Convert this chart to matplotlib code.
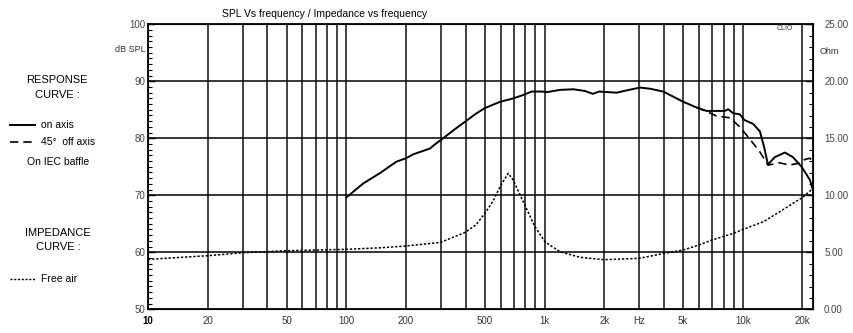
import matplotlib
matplotlib.use("Agg")
import matplotlib.pyplot as plt
from matplotlib.lines import Line2D
import numpy as np

plt.rcParams['font.family'] = ['Liberation Sans', 'DejaVu Sans']

# ---- data ----
spl_on_freq = [100, 122, 148, 179, 200, 218, 264, 284, 308, 350, 397, 450, 500, 596, 695, 781,
               861, 967, 1030, 1200, 1400, 1600, 1750, 1890, 2310, 2590, 3030, 3400, 3970,
               4460, 5010, 5850, 6570, 7370, 8120, 8440, 8940, 9660, 10200, 11300, 12200,
               12800, 13400, 14500, 16300, 17900, 19800, 21800, 22600]
spl_on_db = [69.6, 72.1, 73.9, 75.9, 76.5, 77.2, 78.2, 79.1, 80.0, 81.5, 82.9, 84.3, 85.3, 86.4,
             87.0, 87.6, 88.2, 88.2, 88.1, 88.5, 88.6, 88.3, 87.8, 88.2, 88.0, 88.4, 88.9, 88.7,
             88.2, 87.3, 86.4, 85.4, 84.8, 84.8, 84.8, 85.1, 84.4, 84.2, 83.2, 82.5, 81.2,
             78.5, 75.4, 76.7, 77.5, 76.7, 75.0, 72.7, 70.9]

spl_off_freq = [5850, 6570, 7370, 8600, 9660, 10600, 12200, 13400, 15300, 17200, 19000, 20600,
                21800, 22600]
spl_off_db = [85.4, 84.7, 83.9, 83.6, 82.0, 80.3, 77.6, 75.3, 75.7, 75.3, 75.6, 76.3, 76.5, 76.0]

imp_freq = [10, 20, 30, 50, 100, 150, 199, 299, 398, 450, 500, 550, 596, 656, 695, 795, 894,
            1004, 1196, 1510, 2000, 3000, 4000, 5000, 6000, 7000, 9000, 10000, 12700, 15500,
            18700, 20000, 22600]
imp_ohm = [4.38, 4.70, 4.96, 5.14, 5.26, 5.40, 5.55, 5.87, 6.75, 7.4, 8.4, 9.5, 10.75, 11.93,
           11.34, 9.15, 7.25, 5.93, 5.05, 4.56, 4.35, 4.47, 4.90, 5.20, 5.64, 6.08, 6.67, 7.00,
           7.68, 8.60, 9.50, 9.80, 10.60]

grid_freqs = [10, 20, 30, 40, 50, 60, 70, 80, 90, 100, 200, 300, 400, 500, 600, 700, 800, 900,
              1000, 2000, 3000, 4000, 5000, 6000, 7000, 8000, 9000, 10000, 20000]
x_label_map = {10: "10", 20: "20", 50: "50", 100: "100", 200: "200", 500: "500", 1000: "1k",
               2000: "2k", 3000: "Hz", 5000: "5k", 10000: "10k", 20000: "20k"}
spl_ticks = [50, 60, 70, 80, 90, 100]
ohm_ticks = [0, 5, 10, 15, 20, 25]
ohm_labels = ["0.00", "5.00", "10.00", "15.00", "20.00", "25.00"]

W, H = 854, 333
fig = plt.figure(figsize=(W / 100, H / 100), dpi=100)
x0, x1, ytop, ybot = 148, 813, 24.3, 309.3
ax = fig.add_axes([x0 / W, 1 - ybot / H, (x1 - x0) / W, (ybot - ytop) / H])
ax.set_xscale('log')
ax.set_xlim(10, 22600)
ax.set_ylim(50, 100)

# grid
for f in grid_freqs:
    ax.axvline(f, color='#333333', lw=1.3, zorder=1)
for v in spl_ticks[1:-1]:
    ax.axhline(v, color='black', lw=1.1, zorder=1)

ax.set_xticks(grid_freqs)
ax.set_xticklabels([x_label_map.get(f, "") for f in grid_freqs])
ax.xaxis.set_minor_locator(matplotlib.ticker.NullLocator())
ax.tick_params(axis='x', length=0, pad=5, labelsize=7, labelcolor='#333333')
for lab, f in zip(ax.get_xticklabels(), grid_freqs):
    if f == 10:
        lab.set_fontweight('bold')
        lab.set_color('black')

ax.set_yticks(spl_ticks)
ax.set_yticklabels([str(v) for v in spl_ticks])
ax.set_yticks(np.arange(50, 101, 1), minor=True)
ax.tick_params(axis='y', which='major', direction='in', length=5, width=1, labelsize=7,
               labelcolor='#444444', pad=2)
ax.tick_params(axis='y', which='minor', direction='in', length=3, width=0.8)
for s in ax.spines.values():
    s.set_linewidth(1.3)

ax.plot(spl_on_freq, spl_on_db, color='black', lw=1.4, zorder=3)
ax.plot(spl_off_freq, spl_off_db, color='black', lw=1.2, ls=(0, (5, 3)), zorder=3)

ax2 = ax.twinx()
ax2.set_ylim(0, 25)
ax2.set_yticks(ohm_ticks)
ax2.set_yticklabels(ohm_labels)
ax2.set_yticks(np.arange(0, 25.1, 1), minor=True)
ax2.tick_params(axis='y', which='major', direction='in', length=5, width=1, labelsize=7,
                labelcolor='#444444', pad=8)
ax2.tick_params(axis='y', which='minor', direction='in', length=3, width=0.8)
ax2.plot(imp_freq, imp_ohm, color='black', lw=1.1, ls=(0, (1.5, 1.2)), zorder=3)

# texts
fig.text(222 / W, 1 - 14 / H, "SPL Vs frequency / Impedance vs frequency", fontsize=7.5,
         va='center', ha='left')
fig.text(146 / W, 1 - 50 / H, "dB SPL", fontsize=6.5, ha='right', va='center', color='#333333')
fig.text(820 / W, 1 - 52 / H, "Ohm", fontsize=6.5, ha='left', va='center', color='#333333')
fig.text(785 / W, 1 - 29 / H, "CLIO", fontsize=5, ha='center', va='center', color='#333333')

fig.text(57 / W, 1 - 80 / H, "RESPONSE", fontsize=8, ha='center', va='center')
fig.text(57 / W, 1 - 95 / H, "CURVE :", fontsize=8, ha='center', va='center')
fig.add_artist(Line2D([10 / W, 35 / W], [1 - 125 / H] * 2, color='black', lw=1.4))
fig.text(41 / W, 1 - 125 / H, "on axis", fontsize=7.5, ha='left', va='center')
fig.add_artist(Line2D([10 / W, 35 / W], [1 - 142 / H] * 2, color='black', lw=1.2, ls=(0, (5, 3))))
fig.text(41 / W, 1 - 142 / H, "45°  off axis", fontsize=7.5, ha='left', va='center')
fig.text(58 / W, 1 - 162 / H, "On IEC baffle", fontsize=7.5, ha='center', va='center')
fig.text(58 / W, 1 - 233 / H, "IMPEDANCE", fontsize=8, ha='center', va='center')
fig.text(58 / W, 1 - 247 / H, "CURVE :", fontsize=8, ha='center', va='center')
fig.add_artist(Line2D([10 / W, 35 / W], [1 - 279 / H] * 2, color='black', lw=1.0, ls=(0, (1.5, 1.2))))
fig.text(41 / W, 1 - 279 / H, "Free air", fontsize=7.5, ha='left', va='center')

fig.savefig("out.png", dpi=100)
